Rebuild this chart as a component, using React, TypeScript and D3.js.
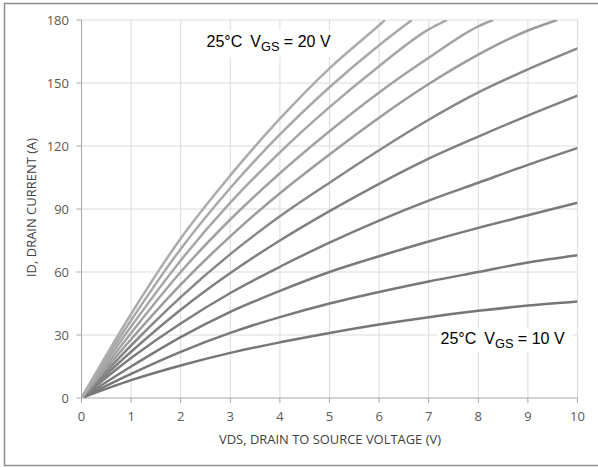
import * as d3 from 'd3'

// drain-source voltage (V) sample points
const vds = [0, 1, 2, 3, 4, 5, 6, 7, 8, 9, 10]

// drain current (A) per gate voltage
const id10 = [0, 8.5, 15.5, 21.5, 26.5, 31, 35, 38.5, 41.5, 44, 46]
const id11 = [0, 11.5, 22, 31, 38.5, 45, 50.5, 55.5, 60, 64.5, 68]
const id12 = [0, 15, 29, 41, 51, 60, 67.5, 74.5, 81, 87, 93]
const id13 = [0, 19, 35.5, 50, 62.5, 74, 84.5, 94, 102.5, 111, 119]
const id14 = [0, 22, 42, 59.5, 75, 89, 102, 114, 124.5, 134.5, 144]
const id15 = [0, 25, 48, 68.5, 86.5, 102.5, 118, 132.5, 145.5, 156.5, 166.5]
const id16 = [0, 28, 54, 77, 97.5, 116, 133.5, 149.5, 163.5, 175]
const id17 = [0, 31, 60, 85, 107, 127, 145.5, 162, 177]
const id18 = [0, 34, 65.5, 93, 117, 138.5, 158, 175.5]
const id19 = [0, 37, 71, 100, 125.5, 148, 168]
const id20 = [0, 40, 76, 106, 133, 157, 177.5]

// where a curve leaves the top of the chart (V), null if it stays inside
const exitVds = [null, null, null, null, null, null, 9.59, 8.3, 7.37, 6.66, 6.12]
const curves = [id10, id11, id12, id13, id14, id15, id16, id17, id18, id19, id20]
const lineColors = ['#767676', '#787878', '#7a7a7a', '#7d7d7d', '#808080', '#878787',
  '#9c9c9c', '#a2a2a2', '#a6a6a6', '#a9a9a9', '#acacac']

const xTicks = [0, 1, 2, 3, 4, 5, 6, 7, 8, 9, 10]
const yTicks = [0, 30, 60, 90, 120, 150, 180]

const W = 598
const H = 467
const m = { left: 81.5, right: 20.5, top: 20, bottom: 69 }

export default function App() {
  const x = d3.scaleLinear().domain([0, 10]).range([m.left, W - m.right])
  const y = d3.scaleLinear().domain([0, 180]).range([H - m.bottom, m.top])

  const line = d3.line<[number, number]>()
    .x(d => x(d[0]))
    .y(d => y(d[1]))
    .curve(d3.curveMonotoneX)

  const paths = curves.map((vals, i) => {
    const pts: [number, number][] = vals.map((v, j) => [vds[j], v])
    const ex = exitVds[i]
    if (ex != null) pts.push([ex, 180])
    return line(pts) || ''
  })

  const tickFont = '"Open Sans", sans-serif'
  const noteFont = '"Liberation Sans", Arial, sans-serif'
  const y0 = y(0)

  return (
    <svg width={W} height={H} style={{ position: 'absolute', left: 0, top: 0, background: '#fff' }}>
      <defs>
        <clipPath id="plot">
          <rect x={m.left} y={m.top} width={x(10) - m.left} height={y0 - m.top} />
        </clipPath>
      </defs>

      <rect x={4.5} y={3.5} width={600} height={462} fill="#fff" stroke="#8c8c8c" strokeWidth={1.5} />

      {/* grid */}
      {xTicks.filter(t => t > 0).map(t => (
        <line key={'gx' + t} x1={x(t)} x2={x(t)} y1={m.top} y2={y0} stroke="#dcdcdc" strokeWidth={1} />
      ))}
      {yTicks.filter(t => t > 0).map(t => (
        <line key={'gy' + t} x1={m.left} x2={x(10)} y1={y(t)} y2={y(t)} stroke="#dcdcdc" strokeWidth={1} />
      ))}

      {/* label boxes hide the grid behind them */}
      <rect x={202} y={30} width={135} height={27} fill="#fff" />
      <rect x={437} y={328} width={135} height={24} fill="#fff" />

      {/* axes */}
      <line x1={m.left} x2={m.left} y1={m.top} y2={y0} stroke="#a6a6a6" />
      <line x1={m.left} x2={x(10)} y1={y0} y2={y0} stroke="#a6a6a6" />
      {yTicks.map(t => (
        <g key={'ty' + t}>
          <line x1={m.left - 5} x2={m.left} y1={y(t)} y2={y(t)} stroke="#a6a6a6" />
          <text x={69} y={y(t) + 4.5} textAnchor="end" fontSize={13} fill="#595959" fontFamily={tickFont}>{t}</text>
        </g>
      ))}
      {xTicks.map(t => (
        <g key={'tx' + t}>
          <line x1={x(t)} x2={x(t)} y1={y0} y2={y0 + 5} stroke="#a6a6a6" />
          <text x={x(t)} y={421} textAnchor="middle" fontSize={13} fill="#595959" fontFamily={tickFont}>{t}</text>
        </g>
      ))}

      {/* curves */}
      <g clipPath="url(#plot)">
        {paths.map((d, i) => (
          <path key={i} d={d} fill="none" stroke={lineColors[i]} strokeWidth={2.5} strokeLinejoin="round" />
        ))}
      </g>

      {/* titles */}
      <text x={330} y={444} textAnchor="middle" fontSize={13} fill="#404040" fontFamily={tickFont}
        textLength={222} lengthAdjust="spacingAndGlyphs">VDS, DRAIN TO SOURCE VOLTAGE (V)</text>
      <text transform="translate(36,207.5) rotate(-90)" textAnchor="middle" fontSize={13} fill="#404040"
        fontFamily={tickFont} textLength={139} lengthAdjust="spacingAndGlyphs">ID, DRAIN CURRENT (A)</text>

      {/* annotations */}
      <text x={206.5} y={47} fontSize={16} fill="#000" fontFamily={noteFont}>
        25°C<tspan dx={8}>V</tspan><tspan fontSize={12.8} dy={4}>GS</tspan><tspan dy={-4}> = 20 V</tspan>
      </text>
      <text x={440.5} y={344} fontSize={16} fill="#000" fontFamily={noteFont}>
        25°C<tspan dx={8}>V</tspan><tspan fontSize={12.8} dy={4}>GS</tspan><tspan dy={-4}> = 10 V</tspan>
      </text>
    </svg>
  )
}
